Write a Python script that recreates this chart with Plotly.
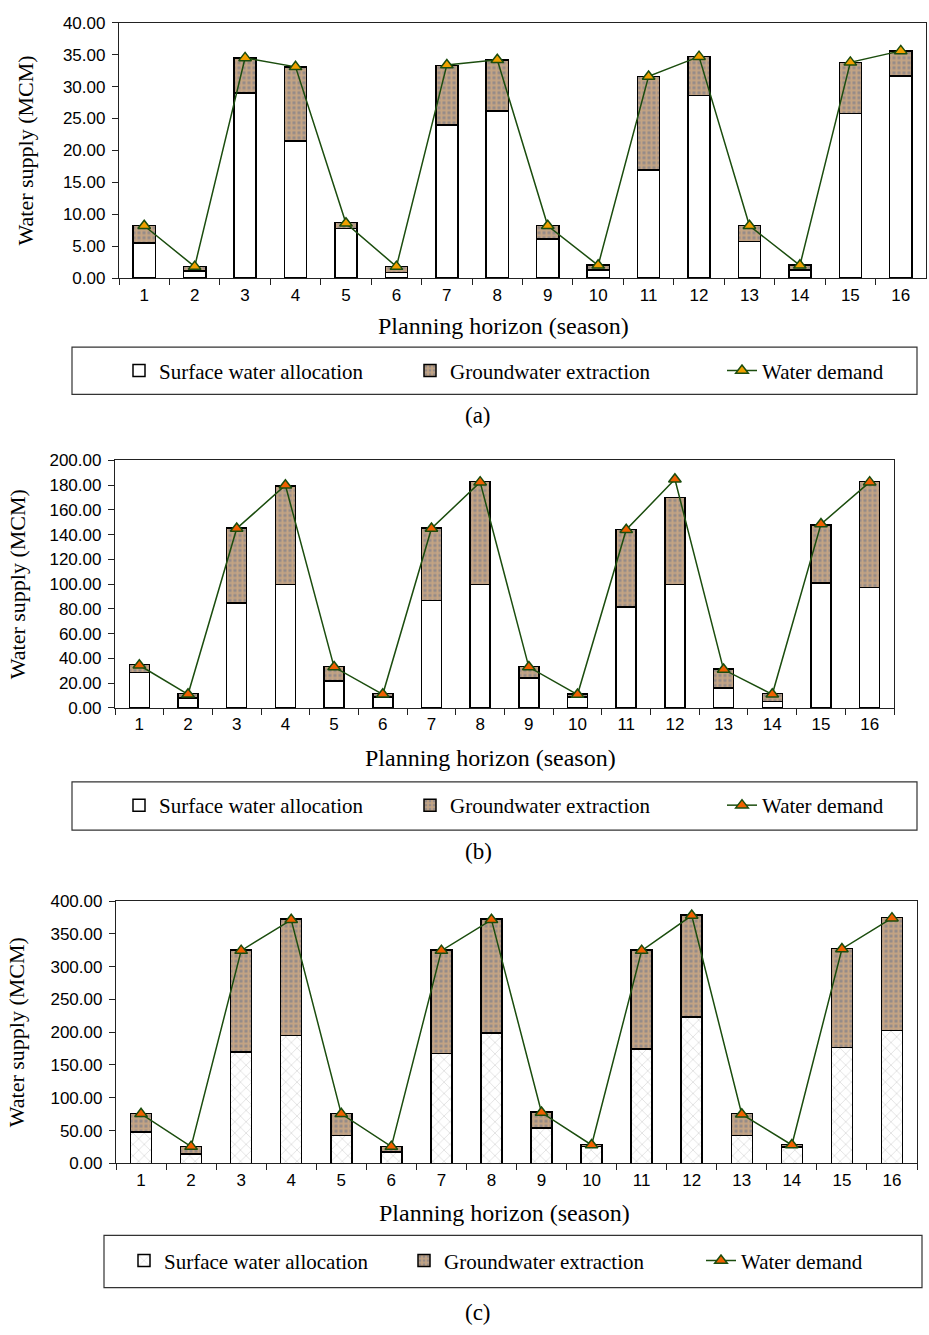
import plotly.graph_objects as go

W, H = 929, 1335

seasons = [str(i) for i in range(1, 17)]

surface_a = [5.5, 1.1, 29.0, 21.5, 7.8, 0.9, 24.0, 26.2, 6.1, 1.3, 16.9, 28.6, 5.7, 1.3, 25.8, 31.7]
ground_a = [2.75, 0.7, 5.5, 11.6, 0.9, 0.9, 9.35, 8.0, 2.15, 0.75, 14.7, 6.1, 2.55, 0.75, 8.0, 3.9]
demand_a = [8.2, 1.8, 34.5, 33.1, 8.6, 1.8, 33.4, 34.2, 8.2, 2.0, 31.6, 34.7, 8.2, 2.0, 33.8, 35.6]

surface_b = [28.8, 8.0, 84.7, 99.6, 21.6, 8.8, 86.8, 99.6, 24.2, 9.0, 81.5, 99.6, 16.0, 5.3, 101.0, 97.5]
ground_b = [6.2, 3.7, 60.7, 79.9, 12.0, 2.9, 58.6, 83.4, 9.4, 2.4, 62.8, 70.4, 15.4, 6.2, 46.8, 85.5]
demand_b = [34.5, 11.0, 145.0, 180.0, 33.0, 11.0, 145.0, 182.5, 33.0, 10.8, 144.0, 184.8, 31.0, 11.0, 148.6, 182.5]

surface_c = [47.6, 14.5, 170.0, 195.0, 42.6, 17.0, 167.4, 198.5, 53.6, 25.6, 174.4, 223.6, 42.1, 24.6, 177.0, 203.0]
ground_c = [28.6, 11.5, 155.3, 177.4, 33.6, 9.0, 157.9, 173.9, 24.6, 3.0, 150.9, 155.4, 33.6, 4.0, 150.8, 172.0]
demand_c = [75.5, 25.5, 324.5, 371.5, 75.5, 25.5, 324.5, 371.5, 77.5, 28.0, 324.5, 378.0, 75.0, 28.0, 327.0, 374.0]

y_ranges = [40, 200, 400]
y_dticks = [5, 20, 50]
panel_labels = ["(a)", "(b)", "(c)"]
series_names = ["Surface water allocation", "Groundwater extraction", "Water demand"]

def px(x):
    return x / W

def py(y):
    return 1 - y / H

panels = [
    dict(x0=119, x1=926, y0=14, y1=273, bw=0.44, tri="#F0A000",
         leg_y=367, leg_box=(72, 917, 343, 391), leg_text=[159, 450, 762],
         xt_x=503, xt_y=322, yt_x=25, lab_y=412, surf_pat=False),
    dict(x0=115, x1=894, y0=458, y1=709, bw=0.41, tri="#F06000",
         leg_y=808, leg_box=(72, 917, 784, 833), leg_text=[159, 450, 762],
         xt_x=490, xt_y=760, yt_x=17, lab_y=855, surf_pat=False),
    dict(x0=116, x1=917, y0=905, y1=1171, bw=0.42, tri="#F06000",
         leg_y=1270, leg_box=(104, 922, 1244, 1297), leg_text=[164, 444, 741],
         xt_x=504, xt_y=1221, yt_x=16, lab_y=1322, surf_pat=True),
]

data = [(surface_a, ground_a, demand_a), (surface_b, ground_b, demand_b), (surface_c, ground_c, demand_c)]

fig = go.Figure()
layout = dict(
    width=W, height=H, margin=dict(l=0, r=0, t=0, b=0),
    paper_bgcolor="white", plot_bgcolor="white",
    barmode="stack", showlegend=True,
    font=dict(family="Liberation Sans", size=16, color="black"),
    shapes=[], annotations=[],
)

AX_COL = "#222222"
LINE_COL = "#1B4D0E"
leg_idx = 0
for i, (p, (surf, grd, dem)) in enumerate(zip(panels, data)):
    n = i + 1
    xa = "x" if n == 1 else f"x{n}"
    ya = "y" if n == 1 else f"y{n}"
    legs = []
    for k in range(3):
        leg_idx += 1
        legs.append("legend" if leg_idx == 1 else f"legend{leg_idx}")

    if p["surf_pat"]:
        surf_marker = dict(color="white", line=dict(color="black", width=1.5),
                           pattern=dict(shape="x", fgcolor="#a0a0a0", bgcolor="white", size=8, solidity=0.14))
    else:
        surf_marker = dict(color="white", line=dict(color="black", width=1.5))

    fig.add_trace(go.Bar(x=seasons, y=surf, name=series_names[0], xaxis=xa, yaxis=ya,
                         width=p["bw"], marker=surf_marker, legend=legs[0]))
    fig.add_trace(go.Bar(x=seasons, y=grd, name=series_names[1], xaxis=xa, yaxis=ya,
                         width=p["bw"], legend=legs[1],
                         marker=dict(color="#c0a58a", line=dict(color="black", width=1.5),
                                     pattern=dict(shape="+", fgcolor="#F3BE80", bgcolor="#958b88",
                                                  size=5, solidity=0.62))))
    fig.add_trace(go.Scatter(x=seasons, y=dem, name=series_names[2], xaxis=xa, yaxis=ya,
                             mode="lines+markers", legend=legs[2],
                             line=dict(color=LINE_COL, width=1.5),
                             marker=dict(symbol="triangle-up", size=11, color=p["tri"],
                                         line=dict(color=LINE_COL, width=1.5))))

    xkey = "xaxis" if n == 1 else f"xaxis{n}"
    ykey = "yaxis" if n == 1 else f"yaxis{n}"
    layout[xkey] = dict(domain=[px(p["x0"]), px(p["x1"])], anchor=ya, type="category",
                        range=[-0.5, 15.5], showline=True, linecolor=AX_COL, linewidth=1.3,
                        mirror=True, ticks="outside", tickson="boundaries", ticklen=6,
                        tickcolor=AX_COL, tickwidth=1.2, showgrid=False, ticklabelstandoff=1,
                        tickfont=dict(family="Liberation Sans", size=17, color="black"))
    layout[ykey] = dict(domain=[py(p["y1"]), py(p["y0"])], anchor=xa,
                        range=[0, y_ranges[i]], dtick=y_dticks[i], tick0=0, tickformat=".2f",
                        showline=True, linecolor=AX_COL, linewidth=1.3, mirror=True,
                        ticks="outside", ticklen=6, tickcolor=AX_COL, tickwidth=1.2,
                        showgrid=False, zeroline=False, ticklabelstandoff=3,
                        tickfont=dict(family="Liberation Sans", size=17, color="black"))

    for k in range(3):
        layout[legs[k]] = dict(x=px(p["leg_text"][k] - 40), xanchor="left",
                               y=py(p["leg_y"]), yanchor="middle",
                               orientation="h", bgcolor="rgba(0,0,0,0)", borderwidth=0,
                               font=dict(family="Liberation Serif", size=21, color="black"))
    bx0, bx1, by0, by1 = p["leg_box"]
    layout["shapes"].append(dict(type="rect", xref="paper", yref="paper",
                                 x0=px(bx0), x1=px(bx1), y0=py(by1), y1=py(by0),
                                 line=dict(color="#333333", width=1.2), layer="below"))
    layout["annotations"].append(dict(text="Planning horizon (season)", xref="paper", yref="paper",
                                      x=px(p["xt_x"]), y=py(p["xt_y"]), xanchor="center", yanchor="middle",
                                      showarrow=False, font=dict(family="Liberation Serif", size=24, color="black")))
    layout["annotations"].append(dict(text="Water supply (MCM)", xref="paper", yref="paper",
                                      x=px(p["yt_x"]), y=py((p["y0"] + p["y1"]) / 2), xanchor="center",
                                      yanchor="middle", textangle=-90, showarrow=False,
                                      font=dict(family="Liberation Serif", size=22, color="black")))
    layout["annotations"].append(dict(text=panel_labels[i], xref="paper", yref="paper",
                                      x=px(478), y=py(p["lab_y"]), xanchor="center", yanchor="middle",
                                      showarrow=False, font=dict(family="Liberation Serif", size=23, color="black")))

fig.update_layout(**layout)
fig.write_html("out.html")
